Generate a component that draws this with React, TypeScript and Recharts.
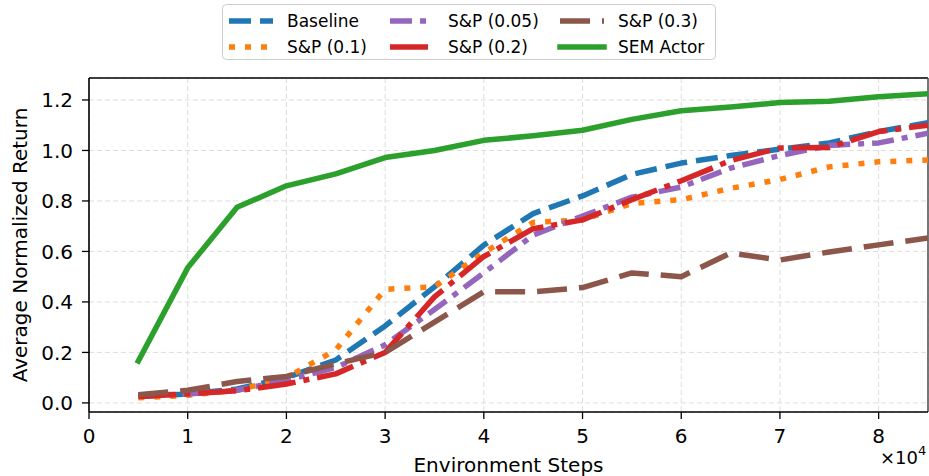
import { LineChart, Line, XAxis, YAxis, CartesianGrid, Legend, ReferenceLine } from 'recharts'

// environment steps, every 5k
const STEPS = [5000, 10000, 15000, 20000, 25000, 30000, 35000, 40000, 45000, 50000, 55000, 60000, 65000, 70000, 75000, 80000, 85000]

const BASELINE = [0.025, 0.035, 0.055, 0.1, 0.17, 0.305, 0.46, 0.625, 0.75, 0.82, 0.905, 0.95, 0.98, 1.005, 1.03, 1.075, 1.11]
const SP_010 = [0.02, 0.03, 0.05, 0.1, 0.21, 0.45, 0.46, 0.595, 0.715, 0.725, 0.79, 0.805, 0.85, 0.885, 0.935, 0.955, 0.962]
const SP_005 = [0.03, 0.035, 0.05, 0.09, 0.14, 0.23, 0.37, 0.515, 0.665, 0.74, 0.815, 0.855, 0.93, 0.98, 1.02, 1.03, 1.068]
const SP_020 = [0.025, 0.036, 0.048, 0.075, 0.115, 0.2, 0.42, 0.58, 0.69, 0.725, 0.805, 0.88, 0.96, 1.01, 1.012, 1.075, 1.1]
const SP_030 = [0.032, 0.05, 0.085, 0.105, 0.155, 0.2, 0.32, 0.44, 0.44, 0.457, 0.515, 0.5, 0.594, 0.566, 0.598, 0.626, 0.653]
const SEM_ACTOR = [0.166, 0.535, 0.775, 0.86, 0.907, 0.972, 1.0, 1.04, 1.058, 1.08, 1.123, 1.157, 1.172, 1.19, 1.195, 1.213, 1.225]

const X_TICKS = [0, 10000, 20000, 30000, 40000, 50000, 60000, 70000, 80000]
const Y_TICKS = [0, 0.2, 0.4, 0.6, 0.8, 1.0, 1.2]

const X_MAX = 85000
const Y_MIN = -0.036
const Y_MAX = 1.287

const FONT = '"DejaVu Sans", sans-serif'
const LW = 5.5

// plotting order = legend order (column-major, 3 columns)
const SERIES = [
  { key: 'baseline', name: 'Baseline', values: BASELINE, color: '#1f77b4', dash: '22 9' },
  { key: 'sp010', name: 'S&P (0.1)', values: SP_010, color: '#ff7f0e', dash: '6 10' },
  { key: 'sp005', name: 'S&P (0.05)', values: SP_005, color: '#9467bd', dash: '22 8 6 8' },
  { key: 'sp020', name: 'S&P (0.2)', values: SP_020, color: '#d62728', dash: '38 8 6 8' },
  { key: 'sp030', name: 'S&P (0.3)', values: SP_030, color: '#8c564b', dash: '30 12' },
  { key: 'sem', name: 'SEM Actor', values: SEM_ACTOR, color: '#2ca02c', dash: undefined as string | undefined },
]

const data = STEPS.map((step, i) => {
  const row: Record<string, number> = { step }
  SERIES.forEach(s => { row[s.key] = s.values[i] })
  return row
})

function LegendBox() {
  const colX = [7, 168, 338]
  const rowY = [17, 43]
  return (
    <svg width={494} height={56} style={{ display: 'block', overflow: 'visible' }}>
      <rect x={0.5} y={0.5} width={493} height={55} rx={4} fill="#ffffff" fillOpacity={0.8} stroke="#cccccc" />
      {SERIES.map((s, i) => {
        const col = Math.floor(i / 2)
        const row = i % 2
        const x = colX[col]
        const y = rowY[row]
        return (
          <g key={s.key}>
            <line x1={x} x2={x + 44} y1={y} y2={y} stroke={s.color} strokeWidth={LW}
              strokeDasharray={s.dash} strokeLinecap={s.dash ? 'butt' : 'square'} />
            <text x={x + 58} y={y} dominantBaseline="central" fontFamily={FONT} fontSize={17} fill="#000">{s.name}</text>
          </g>
        )
      })}
    </svg>
  )
}

// eslint-disable-next-line @typescript-eslint/no-explicit-any
function XLabel({ viewBox }: any) {
  const { x, y, width } = viewBox
  return (
    <g fontFamily={FONT} fill="#000">
      <text x={x + width / 2} y={y + 60} textAnchor="middle" fontSize={20}>Environment Steps</text>
      <text x={x + width - 48} y={y + 52} fontSize={18}>
        ×10<tspan dy={-9} fontSize={13}>4</tspan>
      </text>
    </g>
  )
}

// eslint-disable-next-line @typescript-eslint/no-explicit-any
function YLabel({ viewBox }: any) {
  const cx = 20
  const cy = viewBox.y + viewBox.height / 2
  return (
    <text x={cx} y={cy} transform={`rotate(-90, ${cx}, ${cy})`} textAnchor="middle" dominantBaseline="central"
      fontFamily={FONT} fontSize={20} fill="#000">
      Average Normalized Return
    </text>
  )
}

export default function App() {
  const tick = { fill: '#000', fontSize: 20, fontFamily: FONT }
  const spine = { stroke: '#000', strokeWidth: 1.6 }
  return (
    <div style={{ position: 'absolute', left: 0, top: 0, background: '#fff' }}>
      <LineChart width={929} height={476} data={data} margin={{ top: 78, right: 1, bottom: 0, left: 0 }}>
        <CartesianGrid stroke="#dddddd" strokeDasharray="5 3" strokeWidth={1} />
        <XAxis dataKey="step" type="number" domain={[0, X_MAX]} ticks={X_TICKS} allowDataOverflow
          tickFormatter={(v: number) => String(v / 10000)} height={64}
          tick={tick} tickSize={7} tickMargin={10}
          axisLine={spine} tickLine={{ stroke: '#000', strokeWidth: 1.3 }}
          label={<XLabel />} />
        <YAxis type="number" domain={[Y_MIN, Y_MAX]} ticks={Y_TICKS} allowDataOverflow width={89}
          tickFormatter={(v: number) => v.toFixed(1)}
          tick={tick} tickSize={7} tickMargin={9}
          axisLine={spine} tickLine={{ stroke: '#000', strokeWidth: 1.3 }}
          label={<YLabel />} />
        {/* top and right spines of the frame */}
        <ReferenceLine y={Y_MAX} stroke="#000" strokeWidth={1.6} />
        <ReferenceLine x={X_MAX} stroke="#555" strokeWidth={1.6} />
        <Legend layout="horizontal" verticalAlign="middle" align="center" content={() => <LegendBox />}
          wrapperStyle={{ position: 'absolute', left: 222, top: 4, width: 494, height: 56 }} />
        {SERIES.map(s => (
          <Line key={s.key} dataKey={s.key} name={s.name} stroke={s.color} strokeWidth={LW}
            strokeDasharray={s.dash} strokeLinecap={s.dash ? 'butt' : 'square'} strokeLinejoin="round"
            dot={false} activeDot={false} isAnimationActive={false} />
        ))}
      </LineChart>
    </div>
  )
}
